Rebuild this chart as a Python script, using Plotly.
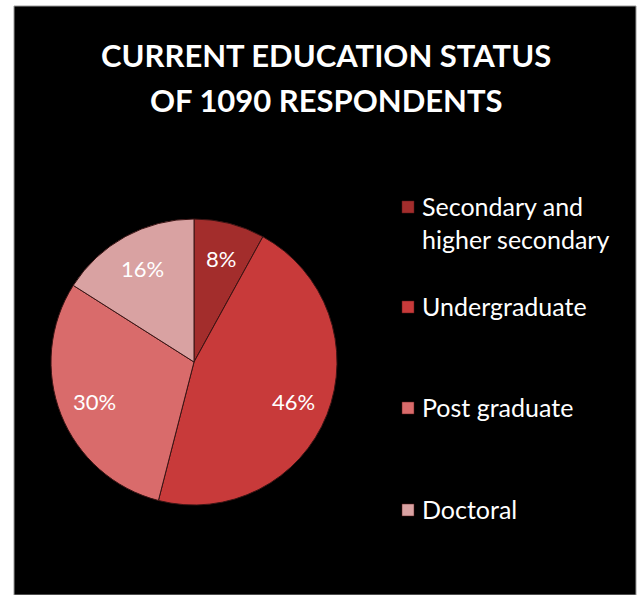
import math
import plotly.graph_objects as go

# Education levels and share of respondents (%)
categories = ["Secondary and higher secondary", "Undergraduate", "Post graduate", "Doctoral"]
legend_labels = ["Secondary and<br>higher secondary", "Undergraduate", "Post graduate", "Doctoral"]
shares = [8, 46, 30, 16]
colors = ["#a32d2c", "#c83a3a", "#d96b6b", "#d9a2a2"]
title_lines = ["CURRENT EDUCATION STATUS", "OF 1090 RESPONDENTS"]

W, H = 637, 595
FONT = "Lato, 'Open Sans', sans-serif"

# Pie placement in pixels
cx, cy, R = 194, 362, 143

fig = go.Figure()

fig.add_trace(go.Pie(
    labels=categories,
    values=shares,
    sort=False,
    direction="clockwise",
    rotation=0,
    marker=dict(colors=colors, line=dict(color="#3a1414", width=1)),
    textinfo="none",
    domain=dict(x=[(cx - R) / W, (cx + R) / W], y=[(H - cy - R) / H, (H - cy + R) / H]),
    showlegend=False,
    hoverinfo="label+percent",
))

# Black panel behind the chart
shapes = [dict(type="rect", xref="paper", yref="paper",
               x0=14 / W, x1=636 / W, y0=0, y1=(H - 6) / H,
               fillcolor="black", line=dict(color="#9a9a9a", width=1), layer="below")]
annotations = []

# Percentage labels along each slice's bisector
total = sum(shares)
start = 0.0
for v in shares:
    mid = (start + v / 2) / total * 2 * math.pi
    start += v
    px = cx + 0.75 * R * math.sin(mid)
    py = cy - 0.75 * R * math.cos(mid)
    annotations.append(dict(text=f"{v}%", xref="paper", yref="paper",
                            x=px / W, y=(H - py) / H, showarrow=False,
                            xanchor="center", yanchor="middle",
                            font=dict(family=FONT, size=22, color="white")))

# Two-line title
for line, y in zip(title_lines, [55, 100]):
    annotations.append(dict(text=f"<b>{line}</b>", xref="paper", yref="paper",
                            x=326 / W, y=(H - y) / H, showarrow=False,
                            xanchor="center", yanchor="middle",
                            font=dict(family=FONT, size=31, color="white")))

# Hand-placed legend: square marker plus label for each slice
legend_y = [207, 307, 408, 510]
for lab, col, y in zip(legend_labels, colors, legend_y):
    shapes.append(dict(type="rect", xref="paper", yref="paper",
                       x0=402 / W, x1=414 / W,
                       y0=(H - y - 6) / H, y1=(H - y + 6) / H,
                       fillcolor=col, line=dict(color="#5a1a1a", width=0.5)))
    annotations.append(dict(text=lab, xref="paper", yref="paper",
                            x=420 / W, y=(H - y + 18) / H,
                            xanchor="left", yanchor="top", showarrow=False,
                            align="left",
                            font=dict(family=FONT, size=25, color="white")))

fig.update_layout(
    width=W, height=H,
    margin=dict(l=0, r=0, t=0, b=0),
    paper_bgcolor="white",
    shapes=shapes,
    annotations=annotations,
)

fig.write_html("out.html")
